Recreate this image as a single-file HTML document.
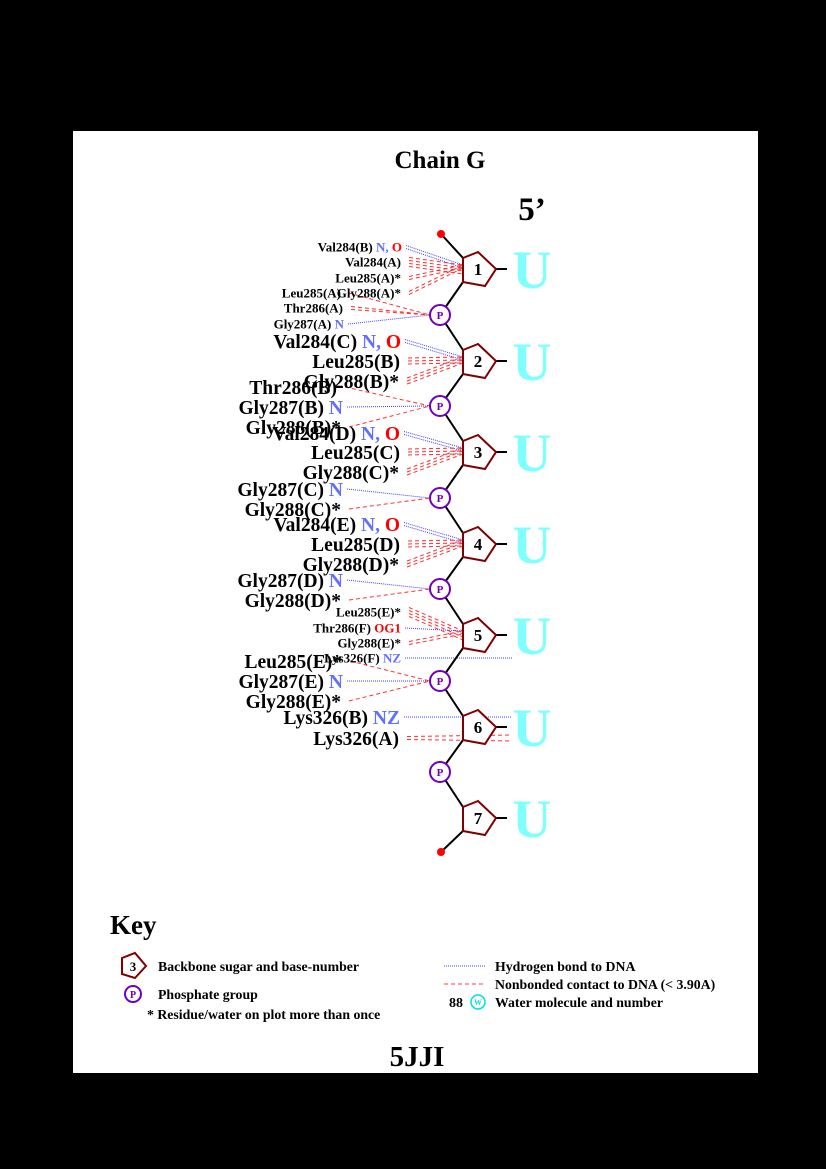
<!DOCTYPE html>
<html><head><meta charset="utf-8"><style>
html,body{margin:0;padding:0;background:#000;}
svg{display:block;font-family:"Liberation Serif",serif;font-weight:bold;}
</style></head><body>
<svg id="c" width="826" height="1169" viewBox="0 0 826 1169" xmlns="http://www.w3.org/2000/svg">
<rect x="0" y="0" width="826" height="1169" fill="#000"/>
<rect x="73" y="131" width="685" height="942" fill="#fff"/>
<text x="440" y="168" font-size="25" text-anchor="middle">Chain G</text>
<text x="532" y="220" font-size="33" text-anchor="middle">5’</text>
<g id="lines"></g><g id="backbone"></g><g id="labels"></g>
<text x="110" y="934" font-size="27">Key</text>
<g>
<polygon points="122,958 135,953 146,966 135,978 122,974" fill="#fff" stroke="#800000" stroke-width="2"/>
<text x="133" y="971" font-size="13" text-anchor="middle">3</text>
<text x="158" y="971" font-size="13.8">Backbone sugar and base-number</text></g>
<g>
<circle cx="133" cy="994" r="8" fill="#fff" stroke="#7000c0" stroke-width="2"/>
<text x="133" y="998" font-size="10" fill="#7000c0" text-anchor="middle">P</text>
<text x="158" y="999" font-size="13.8">Phosphate group</text></g>
<text x="147" y="1019" font-size="13.8">* Residue/water on plot more than once</text>
<g><line x1="444" y1="966" x2="486" y2="966" stroke="#4040ff" stroke-dasharray="1,1"/><text x="495" y="971" font-size="13.8">Hydrogen bond to DNA</text></g>
<g><line x1="444" y1="984" x2="486" y2="984" stroke="#ff4040" stroke-dasharray="4,3"/><text x="495" y="989" font-size="13.8">Nonbonded contact to DNA (&lt; 3.90A)</text></g>
<g><text x="449" y="1007" font-size="14">88</text><circle cx="478" cy="1002" r="7" fill="#fff" stroke="#00e0e0" stroke-width="1.5"/><text x="478" y="1005" font-size="8" fill="#00e0e0" text-anchor="middle">W</text><text x="495" y="1007" font-size="13.8">Water molecule and number</text></g>
<text x="417" y="1066" font-size="29" text-anchor="middle">5JJI</text>
</svg>
<script>
const bases=["1","2","3","4","5","6","7"];
const baseLetters=["U","U","U","U","U","U","U"];
const sugarY=[269,361,452,544,635,727,818];
const phosY=[315,406,498,589,681,772];
const cName=["Val284(B)","Val284(A)","Leu285(A)*","Gly288(A)*","Leu285(A)","Thr286(A)","Gly287(A)","Val284(C)","Leu285(B)","Gly288(B)*","Thr286(B)","Gly287(B)","Gly288(B)*","Val284(D)","Leu285(C)","Gly288(C)*","Gly287(C)","Gly288(C)*","Val284(E)","Leu285(D)","Gly288(D)*","Gly287(D)","Gly288(D)*","Leu285(E)*","Thr286(F)","Gly288(E)*","Lys326(F)","Leu285(E)*","Gly287(E)","Gly288(E)*","Lys326(B)","Lys326(A)"];
const cSuffix=["N, O","","","","","","N","N, O","","","","N","","N, O","","","N","","N, O","","","N","","","OG1","","NZ","","N","","NZ",""];
const cY=[247,262,278,293,293,308,324,341,361,381,387,407,427,433,452,472,489,509,524,544,564,580,600,612,628,643,658,661,681,701,717,738];
const cX=[402,401,401,401,341,343,344,401,400,399,337,343,341,400,400,399,343,341,400,400,399,343,341,401,401,401,401,342,343,341,400,399];
const cSize=[13,13,13,13,13,13,13,19.5,19.5,19.5,19.5,19.5,19.5,19.5,19.5,19.5,19.5,19.5,19.5,19.5,19.5,19.5,19.5,13,13,13,13,19.5,19.5,19.5,19.5,19.5];
const cTarget=["s0","s0","s0","s0","p0","p0","p0","s1","s1","s1","p1","p1","p1","s2","s2","s2","p2","p2","s3","s3","s3","p3","p3","s4","s4","s4","x","p4","p4","p4","x","x"];
const cType=["h","n","n","n","n","n","h","h","n","n","n","h","n","h","n","n","h","n","h","n","n","h","n","n","h","n","h","n","h","n","h","n"];
const cLines=[2,4,2,2,1,2,1,2,3,3,1,1,1,2,3,3,1,1,2,3,3,1,1,4,1,2,1,1,1,1,1,2];
const NS="http://www.w3.org/2000/svg";
function mk(t,a,p){const e=document.createElementNS(NS,t);for(const k in a)e.setAttribute(k,a[k]);p.appendChild(e);return e;}
const L=document.getElementById('lines'),B=document.getElementById('backbone'),T=document.getElementById('labels');
const sx=478,px=440;
function sugarPts(y){return [[478,y-17],[496,y],[485,y+17],[463,y+13],[463,y-11]];}
let bb=mk('polyline',{fill:'none',stroke:'#000','stroke-width':2,points:''},B);


let pts=[[441,234]];
sugarY.forEach((y,i)=>{pts.push([463,y-11]);pts.push([463,y+13]);if(i<phosY.length)pts.push([px,phosY[i]]);});
pts.push([441,852]);
bb.setAttribute('points',pts.map(p=>p.join(',')).join(' '));
const d1=mk('circle',{cx:441,cy:234,r:4,fill:'#f00'},B);


const d2=mk('circle',{cx:441,cy:852,r:4,fill:'#f00'},B);


sugarY.forEach((y,i)=>{
 const g=mk('g',{},B);
 
 
 mk('line',{x1:496,y1:y,x2:507,y2:y,stroke:'#000','stroke-width':2},g);
 mk('polygon',{points:sugarPts(y).map(p=>p.join(',')).join(' '),fill:'#fff',stroke:'#800000','stroke-width':2},g);
 const t=mk('text',{x:sx,y:y+6,'font-size':17,'text-anchor':'middle'},g);t.textContent=bases[i];
 const u=mk('text',{x:532,y:y+19,'font-size':54,fill:'#80ffff','text-anchor':'middle'},g);u.textContent=baseLetters[i];
});
phosY.forEach((y,i)=>{
 const g=mk('g',{},B);
 
 
 mk('circle',{cx:px,cy:y,r:10,fill:'#fff',stroke:'#7000c0','stroke-width':2},g);
 const t=mk('text',{x:px,y:y+4,'font-size':11,fill:'#7000c0','text-anchor':'middle'},g);t.textContent='P';
});
cName.forEach((n,i)=>{
 const fs=cSize[i],y=cY[i];
 const g=mk('g',{},T);
 
 
 const t=mk('text',{x:cX[i],y:y+fs*0.35,'font-size':fs,'text-anchor':'end'},g);
 const a=document.createElementNS(NS,'tspan');a.textContent=n;t.appendChild(a);
 if(cSuffix[i]){
  const parts=cSuffix[i]==="N, O"?[["N, ","#6070ff"],["O","#f00"]]:[[cSuffix[i],cSuffix[i]==="OG1"?"#f00":"#6070ff"]];
  const s=document.createElementNS(NS,'tspan');s.textContent=' ';t.appendChild(s);
  parts.forEach(p=>{const q=document.createElementNS(NS,'tspan');q.setAttribute('fill',p[1]);q.textContent=p[0];t.appendChild(q);});
 }
 const col=cType[i]==='h'?'#4040ff':'#ff3030',da=cType[i]==='h'?'1,1':'4,3';
 const x0=cX[i]+(cSuffix[i]?0:4);
 const tg=cTarget[i];
 for(let k=0;k<cLines[i];k++){
  let x2,y2;
  if(tg==='x'){x2=512;y2=y+k*6-(cLines[i]-1)*3;}
  else if(tg[0]==='s'){x2=463;y2=sugarY[+tg.slice(1)]-4+k*3;}
  else {x2=px-10;y2=phosY[+tg.slice(1)];}
  const ln=mk('line',{x1:x0+4,y1:y+k*3-(cLines[i]-1)*1.5,x2:x2,y2:y2,stroke:col,'stroke-width':1,'stroke-dasharray':da},L);
  
  
 }
});
</script>
</body></html>
